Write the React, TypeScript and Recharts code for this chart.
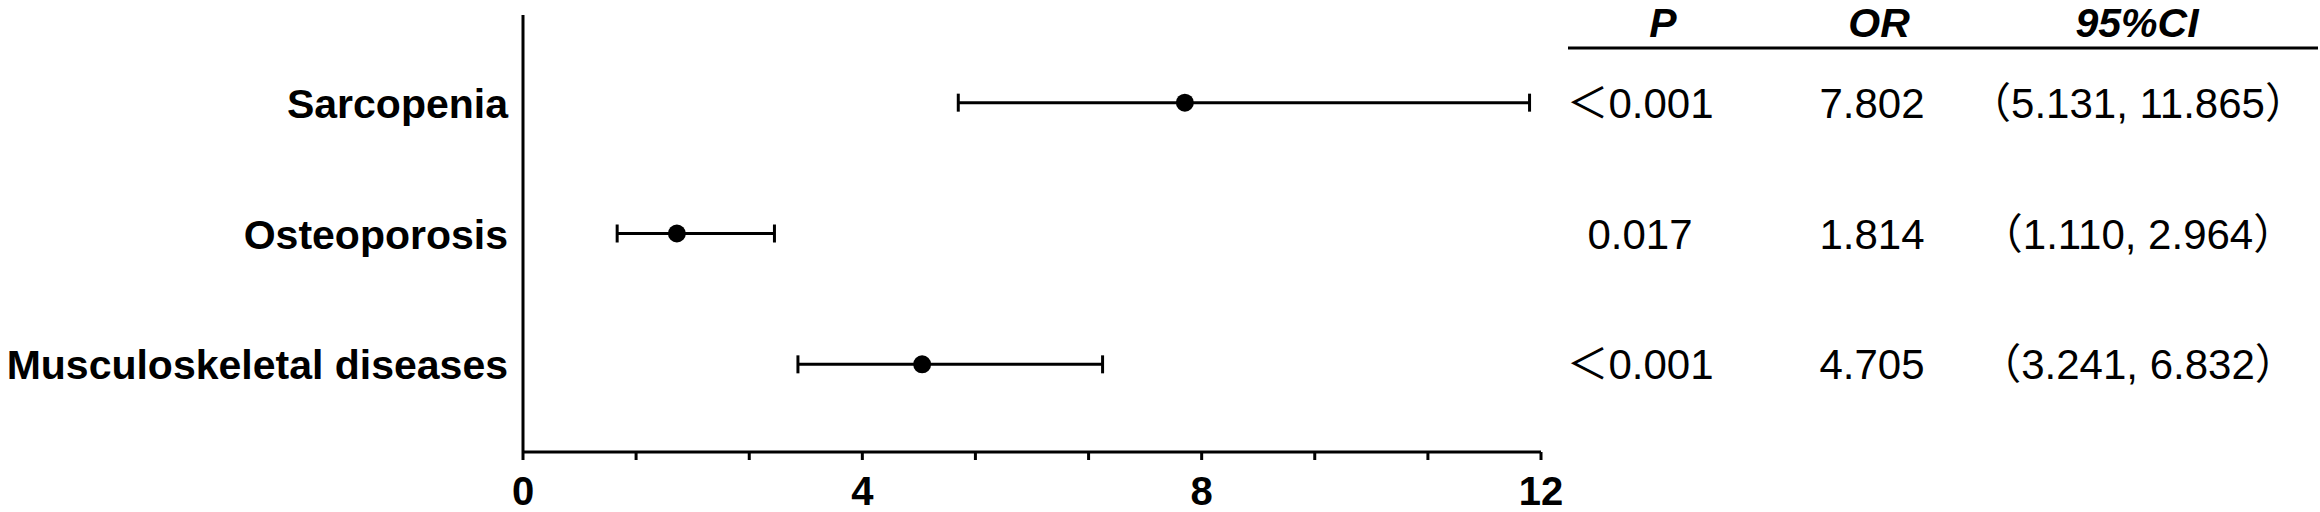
import { ScatterChart, Scatter, XAxis, YAxis, ErrorBar } from 'recharts';

const categories = ['Sarcopenia', 'Osteoporosis', 'Musculoskeletal diseases'];
const orValues = [7.802, 1.814, 4.705];
const ciLow = [5.131, 1.11, 3.241];
const ciHigh = [11.865, 2.964, 6.832];
const pValues = ['＜0.001', '0.017', '＜0.001'];
const tableHeaders = ['P', 'OR', '95%CI'];
const xTicks = [0, 1.333, 2.667, 4, 5.333, 6.667, 8, 9.333, 10.667, 12];
const xTickLabels = [0, 4, 8, 12];

const FONT = "'Liberation Sans', Arial, 'Noto Sans CJK JP', sans-serif";

// rows are stacked top to bottom: first category sits highest
const rowPos = categories.map((_, i) => categories.length - i);

const chartData = categories.map((name, i) => ({
  name,
  row: rowPos[i],
  or: orValues[i],
  err: [orValues[i] - ciLow[i], ciHigh[i] - orValues[i]],
}));

// table column centres (P, OR, 95%CI)
const colX = [1640, 1872, 2138];
const headX = [1663, 1879, 2137];

const XTick = ({ x, y, payload }: any) => {
  if (!xTickLabels.includes(payload.value)) return <g />;
  return (
    <text x={x} y={y} dy={43} textAnchor="middle" fontFamily={FONT} fontWeight="bold" fontSize={40} fill="#000">
      {payload.value}
    </text>
  );
};

// left label plus the table row that sits on the same line
const RowTick = ({ x, y, payload }: any) => {
  const i = rowPos.indexOf(payload.value);
  if (i < 0) return <g />;
  const cells = [
    pValues[i],
    orValues[i].toFixed(3),
    `（${ciLow[i].toFixed(3)}, ${ciHigh[i].toFixed(3)}）`,
  ];
  return (
    <g>
      <text x={x - 7} y={y} dy={15} textAnchor="end" fontFamily={FONT} fontWeight="bold" fontSize={41} fill="#000">
        {categories[i]}
      </text>
      {cells.map((c, k) => (
        <text key={k} x={colX[k]} y={y} dy={15} textAnchor="middle" fontFamily={FONT} fontSize={42} fill="#000">
          {c}
        </text>
      ))}
    </g>
  );
};

const Dot = (p: any) => <circle cx={p.cx} cy={p.cy} r={9} fill="#000" />;

export default function App() {
  return (
    <div style={{ position: 'absolute', left: 0, top: 0, width: 2320, height: 512, background: '#fff' }}>
      <ScatterChart width={2320} height={512} margin={{ top: 15, right: 779, bottom: 0, left: 0 }}>
        <XAxis
          type="number"
          dataKey="or"
          domain={[0, 12]}
          ticks={xTicks}
          interval={0}
          height={60}
          tickSize={8}
          axisLine={{ stroke: '#000', strokeWidth: 3 }}
          tickLine={{ stroke: '#000', strokeWidth: 3 }}
          tick={<XTick />}
        />
        <YAxis
          type="number"
          dataKey="row"
          domain={[0.33, 3.67]}
          ticks={rowPos}
          interval={0}
          width={523}
          axisLine={{ stroke: '#000', strokeWidth: 3 }}
          tickLine={false}
          tick={<RowTick />}
        />
        <Scatter data={chartData} fill="#000" shape={<Dot />} isAnimationActive={false}>
          <ErrorBar dataKey="err" direction="x" width={9} stroke="#000" strokeWidth={3} isAnimationActive={false} />
        </Scatter>
      </ScatterChart>
      <svg width={2320} height={512} style={{ position: 'absolute', left: 0, top: 0, pointerEvents: 'none' }}>
        {tableHeaders.map((h, k) => (
          <text
            key={h}
            x={headX[k]}
            y={37}
            textAnchor="middle"
            fontFamily={FONT}
            fontWeight="bold"
            fontStyle="italic"
            fontSize={41}
            fill="#000"
          >
            {h}
          </text>
        ))}
        <line x1={1568} x2={2318} y1={48} y2={48} stroke="#000" strokeWidth={3} />
      </svg>
    </div>
  );
}
